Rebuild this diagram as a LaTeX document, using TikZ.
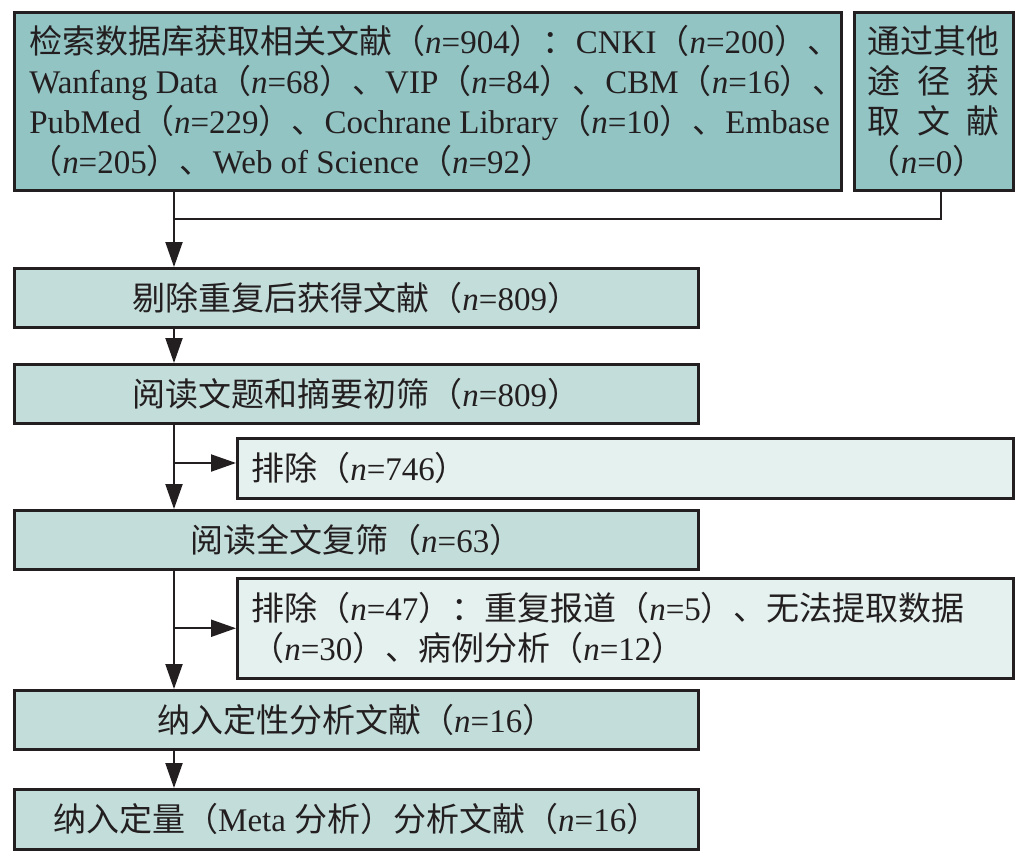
\documentclass[tikz,border=0pt]{standalone}
\usepackage{fontspec}
\setmainfont{Liberation Serif}
\newfontfamily\cjkfont{Noto Sans CJK SC}
\usetikzlibrary{arrows.meta}
\newcommand\zh[1]{{\cjkfont #1}}
\newcommand\nn{\textit{n}}
\newcommand\wideline[1]{\hbox to 797pt{#1\hss}}
\newcommand\exline[1]{\hbox to 748pt{#1\hss}}
\definecolor{tealdark}{HTML}{93C4C4}
\definecolor{tealmid}{HTML}{C3DEDA}
\definecolor{teallight}{HTML}{E4F1EE}
\definecolor{ink}{HTML}{231F20}
\begin{document}
\begin{tikzpicture}[x=1pt,y=-1pt,
  basebox/.style={draw=ink, line width=2.5pt, rectangle, inner sep=0pt, anchor=north west,
    font=\fontsize{33}{40}\selectfont, text=ink},
  srcbox/.style={basebox, fill=tealdark},
  stagebox/.style={basebox, fill=tealmid, minimum width=684pt},
  exclbox/.style={basebox, fill=teallight, minimum width=776pt, inner xsep=14pt, align=left},
  conn/.style={draw=ink, line width=2pt},
  arr/.style={conn, -{Triangle[width=17pt,length=25pt]}}
]
\useasboundingbox (0,0) rectangle (1026,862);

% source boxes
\node[srcbox, minimum width=827pt, minimum height=178pt, inner xsep=15pt, align=left] (search) at (13,11) {%
\wideline{\zh{检索数据库获取相关文献（}\nn=904\zh{）：}CNKI\zh{（}\nn=200\zh{）、}}\\
\wideline{Wanfang Data\zh{（}\nn=68\zh{）、}VIP\zh{（}\nn=84\zh{）、}CBM\zh{（}\nn=16\zh{）、}}\\
\wideline{PubMed\zh{（}\nn=229\zh{）、}Cochrane Library\zh{（}\nn=10\zh{）、}Embase}\\
\wideline{\zh{（}\nn=205\zh{）、}Web of Science\zh{（}\nn=92\zh{）}}};

\node[srcbox, minimum width=159pt, minimum height=178pt, align=left] (other) at (853,11) {%
\hbox to 132pt{\zh{通}\hfill\zh{过}\hfill\zh{其}\hfill\zh{他}}\\
\hbox to 132pt{\zh{途}\hfill\zh{径}\hfill\zh{获}}\\
\hbox to 132pt{\zh{取}\hfill\zh{文}\hfill\zh{献}}\\
\hbox to 132pt{\zh{（}\nn=0\zh{）}\hss}};

% stage boxes
\node[stagebox, minimum height=59pt] (dedup) at (13,267) {\zh{剔除重复后获得文献（}\nn=809\zh{）}};
\node[stagebox, minimum height=59pt] (screen) at (13,363) {\zh{阅读文题和摘要初筛（}\nn=809\zh{）}};
\node[exclbox, minimum height=60pt] (excl1) at (236,437) {\exline{\zh{排除（}\nn=746\zh{）}}};
\node[stagebox, minimum height=59pt] (full) at (13,509) {\zh{阅读全文复筛（}\nn=63\zh{）}};
\node[exclbox, minimum height=100pt] (excl2) at (236,577) {%
\exline{\zh{排除（}\nn=47\zh{）：重复报道（}\nn=5\zh{）、无法提取数据}}\\
\exline{\zh{（}\nn=30\zh{）、病例分析（}\nn=12\zh{）}}};
\node[stagebox, minimum height=59pt] (qual) at (13,689) {\zh{纳入定性分析文献（}\nn=16\zh{）}};
\node[stagebox, minimum height=60pt] (meta) at (13,788) {\zh{纳入定量（}Meta \zh{分析）分析文献（}\nn=16\zh{）}};

% connector helpers
\coordinate (spine) at (174,0);
\coordinate (merge) at (174,219);
\coordinate (otherdrop) at (941,0);
\coordinate (branch1) at (174,463);

% connectors
\draw[conn] (other.south -| otherdrop) -- (otherdrop |- merge) -- (merge);
\draw[arr] (search.south -| spine) -- (dedup.north -| spine);
\draw[arr] (dedup.south -| spine) -- (screen.north -| spine);
\draw[arr] (screen.south -| spine) -- (full.north -| spine);
\draw[arr] (branch1) -- (branch1 -| excl1.west);
\draw[arr] (full.south -| spine) -- (qual.north -| spine);
\draw[arr] (excl2.west -| spine) -- (excl2.west);
\draw[arr] (qual.south -| spine) -- (meta.north -| spine);
\end{tikzpicture}
\end{document}
